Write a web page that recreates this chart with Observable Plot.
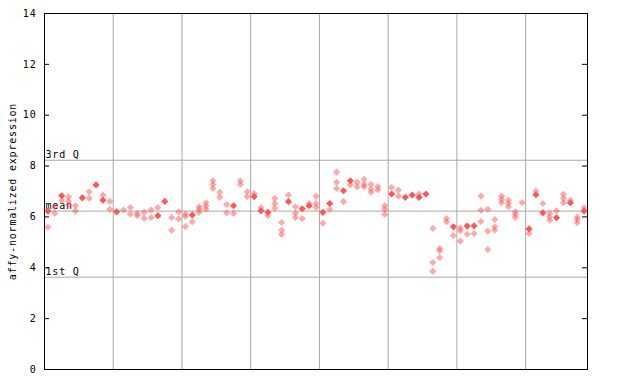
<!DOCTYPE html>
<html>
<head>
<meta charset="utf-8">
<script src="https://cdn.jsdelivr.net/npm/d3@7"></script>
<script src="https://cdn.jsdelivr.net/npm/@observablehq/plot@0.6"></script>
<style>
  html, body { margin: 0; padding: 0; background: #fff; }
  #chart svg { display: block; }
</style>
</head>
<body>
<div id="chart"></div>
<script>
// Per-sample replicate values (one inner list per sample, 79 samples)
const hollowValues = [
  [5.59], [6.40, 6.14], [6.64], [6.79, 6.62, 6.47], [6.44, 6.23], [], [6.99, 6.73], [], [6.86], [6.61, 6.30],
  [], [6.27], [6.37, 6.11], [6.14, 6.05], [6.19, 5.95], [6.27, 5.98], [6.37], [], [5.98, 5.48], [6.20, 5.92],
  [6.12, 6.02, 5.62], [5.81], [6.40, 6.30, 6.18], [6.56, 6.43, 6.30], [7.42, 7.28, 7.12], [6.97, 6.77], [6.49, 6.16], [6.14], [7.42, 7.28], [6.99, 6.80],
  [6.92], [6.36], [6.05], [6.73, 6.53, 6.34], [5.78, 5.48, 5.31], [6.86], [6.40, 6.14, 5.98], [5.94], [6.53], [6.81, 6.53, 6.38],
  [5.75], [6.30], [7.76, 7.36, 7.12], [6.60], [7.26], [7.36, 7.19], [7.48, 7.28, 7.19], [7.28, 7.09, 6.97], [7.19, 7.06], [6.44, 6.30, 6.10],
  [7.16], [7.06, 6.82], [], [], [6.90], [], [5.55, 4.21, 3.86], [4.76, 4.67, 4.40], [5.94, 5.81], [5.27],
  [5.56, 5.46, 5.05], [5.32], [5.35], [6.82, 6.26, 5.82], [6.30, 5.44, 4.72], [5.90, 5.61, 5.48], [6.82, 6.69, 6.56], [6.66, 6.53, 6.40], [6.20, 6.10, 5.98], [6.57],
  [5.35], [7.02], [6.53], [6.14, 6.00, 5.87], [6.24], [6.89, 6.73, 6.56], [6.66], [6.00, 5.90, 5.77], [6.36]
];
// Overlapping replicates (drawn solid)
const solidValues = [
  [6.23], [], [6.83], [], [], [6.75], [], [7.26], [6.66], [],
  [6.20], [], [], [], [], [], [6.05], [6.61], [], [],
  [], [6.08], [], [], [], [], [], [6.44], [], [],
  [6.80], [6.24], [6.18], [], [], [6.60], [], [6.32], [6.44], [],
  [6.18], [6.53], [], [7.03], [7.42], [], [], [], [], [],
  [6.90], [], [6.77], [6.86], [6.77], [6.90], [], [], [], [5.61],
  [], [5.64], [5.65], [], [], [], [], [], [], [],
  [5.53], [6.87], [6.16], [], [5.97], [], [6.56], [], [6.23]
];
const groupBreaks = [10, 20, 30, 40, 50, 60, 70];
const quartileLabels = ["3rd Q", "mean", "1st Q"];
const quartileValues = [8.23, 6.23, 3.63];
const yTicks = [0, 2, 4, 6, 8, 10, 12, 14];
const yLabel = "affy-normalized expression";

const nSamples = hollowValues.length;
const hollowPts = hollowValues.flatMap((vals, i) => vals.map(v => ({i: i + 0.5, v})));
const solidPts = solidValues.flatMap((vals, i) => vals.map(v => ({i: i + 0.5, v})));
const quartiles = quartileLabels.map((label, k) => ({label, v: quartileValues[k]}));

const red = "#ff5555";
const font = "'DejaVu Sans Mono', monospace";

const chart = Plot.plot({
  width: 640,
  height: 384,
  marginLeft: 44,
  marginRight: 53,
  marginTop: 13,
  marginBottom: 15,
  style: {fontFamily: font, fontSize: "10px", background: "#fff", color: "#000", letterSpacing: "0.8px"},
  x: {domain: [0, nSamples], axis: null},
  y: {domain: [0, 14], axis: null},
  marks: [
    Plot.ruleX(groupBreaks, {stroke: "#a8a8a8", strokeWidth: 1}),
    Plot.ruleY(quartileValues, {stroke: "#a8a8a8", strokeWidth: 1}),
    Plot.text(quartiles, {x: 0, y: "v", text: "label", textAnchor: "start", dy: -5, dx: 1, fill: "#000"}),
    Plot.dot(hollowPts, {x: "i", y: "v", symbol: "diamond2", r: 3.2, fill: red, fillOpacity: 0.5, stroke: "none"}),
    Plot.dot(solidPts, {x: "i", y: "v", symbol: "diamond2", r: 3.2, fill: red, stroke: "none"}),
    Plot.frame({stroke: "#000"}),
    Plot.tickY(yTicks, {y: d => d, insetRight: 543 - 5, stroke: "#000"}),
    Plot.tickY(yTicks, {y: d => d, insetLeft: 543 - 5, stroke: "#000"}),
    Plot.text(yTicks, {y: d => d, text: d => String(d), frameAnchor: "left", textAnchor: "end", dx: -8, fill: "#000"}),
    Plot.text([yLabel], {frameAnchor: "left", textAnchor: "middle", rotate: -90, dx: -32, fill: "#000"})
  ]
});
document.getElementById("chart").appendChild(chart);
</script>
</body>
</html>
